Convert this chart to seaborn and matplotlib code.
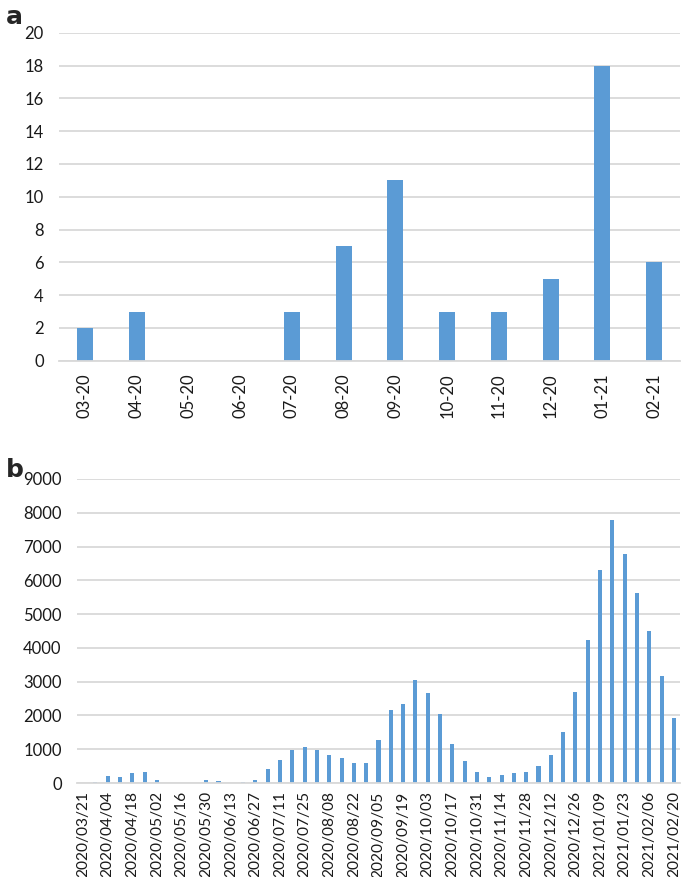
import matplotlib
matplotlib.use("Agg")
import matplotlib.pyplot as plt
import seaborn as sns
import pandas as pd
import numpy as np

# Panel a: monthly counts
months = ["03-20", "04-20", "05-20", "06-20", "07-20", "08-20",
          "09-20", "10-20", "11-20", "12-20", "01-21", "02-21"]
month_counts = [2, 3, 0, 0, 3, 7, 11, 3, 3, 5, 18, 6]

# Panel b: weekly counts (week starting dates)
weeks = list(pd.date_range("2020-03-21", "2021-02-20", freq="7D").strftime("%Y/%m/%d"))
week_counts = [0, 15, 200, 170, 300, 320, 90, 0, 0, 0,
               80, 70, 0, 20, 90, 410, 670, 990, 1080, 970,
               840, 730, 580, 600, 1270, 2150, 2350, 3040, 2670, 2040,
               1160, 640, 340, 190, 250, 300, 320, 510, 820, 1500,
               2680, 4240, 6310, 7790, 6790, 5630, 4490, 3180, 1910]

sns.set_theme(style="white")
plt.rcParams['font.family'] = ['Lato', 'DejaVu Sans']

BAR = "#5B9BD5"
GRID = "#D9D9D9"
TXT = "#1a1a1a"

W, H = 685, 877
fig = plt.figure(figsize=(W / 100, H / 100), dpi=100)

def ax_px(left, top, right, bottom):
    return fig.add_axes([left / W, 1 - bottom / H, (right - left) / W, (bottom - top) / H])

# ---- panel a ----
axa = ax_px(59, 32.7, 680, 360.7)
dfa = pd.DataFrame({"month": months, "count": month_counts})
sns.barplot(data=dfa, x="month", y="count", color=BAR, width=0.31, ax=axa,
            saturation=1, order=months, linewidth=0)
axa.set_xlim(-0.5, len(months) - 0.5)
axa.set_ylim(0, 20)
axa.set_yticks(np.arange(0, 21, 2))
axa.yaxis.grid(True, color=GRID, linewidth=1.3)
axa.set_axisbelow(True)
for s in ["top", "right", "left"]:
    axa.spines[s].set_visible(False)
axa.spines["bottom"].set_color(GRID)
axa.spines["bottom"].set_linewidth(1.3)
axa.set_xlabel("")
axa.set_ylabel("")
axa.tick_params(axis="y", length=0, pad=11, labelsize=12, labelcolor=TXT)
axa.tick_params(axis="x", which="major", length=0, pad=9, labelsize=12, labelcolor=TXT,
                labelrotation=90)
axa.set_xticks(np.arange(-0.5, len(months), 1.0), minor=True)
axa.tick_params(axis="x", which="minor", length=5, color=GRID, width=1.3)
fig.text(6 / W, 1 - 17 / H, "a", fontsize=18, fontweight="bold", va="center", ha="left",
         family=["DejaVu Sans"])

# ---- panel b ----
axb = ax_px(77, 479, 680, 783)
dfb = pd.DataFrame({"week": weeks, "count": week_counts})
sns.barplot(data=dfb, x="week", y="count", color=BAR, width=0.33, ax=axb,
            saturation=1, order=weeks, linewidth=0)
axb.set_xlim(-0.5, len(weeks) - 0.5)
axb.set_ylim(0, 9000)
axb.set_yticks(np.arange(0, 9001, 1000))
axb.yaxis.grid(True, color=GRID, linewidth=1.3)
axb.set_axisbelow(True)
for s in ["top", "right", "left"]:
    axb.spines[s].set_visible(False)
axb.spines["bottom"].set_color(GRID)
axb.spines["bottom"].set_linewidth(1.3)
axb.set_xlabel("")
axb.set_ylabel("")
axb.set_xticks(np.arange(0, len(weeks), 2))
axb.set_xticklabels(weeks[::2])
axb.tick_params(axis="y", length=0, pad=11, labelsize=12, labelcolor=TXT)
axb.tick_params(axis="x", length=0, pad=6, labelsize=11.2, labelcolor=TXT, labelrotation=90)
fig.text(6 / W, 1 - 470 / H, "b", fontsize=18, fontweight="bold", va="center", ha="left",
         family=["DejaVu Sans"])

fig.savefig("out.png", dpi=100)
